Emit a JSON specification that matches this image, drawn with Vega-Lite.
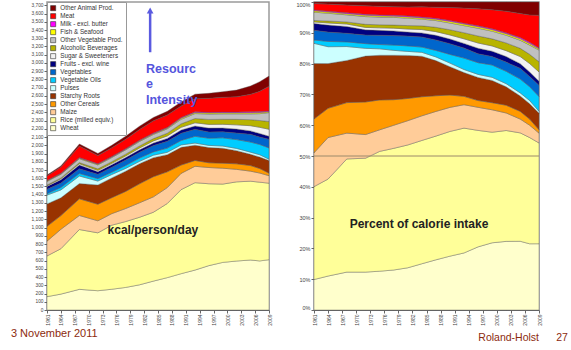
{
  "$schema": "https://vega.github.io/schema/vega-lite/v6.json",
  "background": "white",
  "padding": {"left": 10, "top": 0, "right": 0, "bottom": 0},
  "config": {
    "font": "Liberation Sans",
    "view": {"stroke": "#9a9a9a", "strokeWidth": 1.5},
    "axis": {"grid": false, "labelFontSize": 5, "labelColor": "#444", "tickSize": 3, "tickColor": "#666", "domainColor": "#666", "labelPadding": 1, "labelOverlap": false}
  },
  "datasets": {
    "foodL": [
      {"year": 1961, "wh": 162, "ri": 494, "mz": 180, "oc": 180, "sr": 272, "pu": 107, "vo": 18, "ve": 52, "fr": 36, "su": 8, "al": 8, "ov": 44, "fi": 7, "mi": 5, "me": 55, "oa": 10},
      {"year": 1964, "wh": 193, "ri": 551, "mz": 236, "oc": 166, "sr": 216, "pu": 96, "vo": 30, "ve": 53, "fr": 40, "su": 12, "al": 11, "ov": 44, "fi": 7, "mi": 5, "me": 75, "oa": 15},
      {"year": 1968, "wh": 251, "ri": 726, "mz": 171, "oc": 202, "sr": 185, "pu": 92, "vo": 31, "ve": 57, "fr": 45, "su": 16, "al": 14, "ov": 47, "fi": 8, "mi": 6, "me": 140, "oa": 25},
      {"year": 1972, "wh": 234, "ri": 703, "mz": 146, "oc": 201, "sr": 234, "pu": 48, "vo": 29, "ve": 53, "fr": 32, "su": 15, "al": 19, "ov": 48, "fi": 8, "mi": 6, "me": 100, "oa": 25},
      {"year": 1975, "wh": 252, "ri": 778, "mz": 140, "oc": 194, "sr": 239, "pu": 42, "vo": 28, "ve": 60, "fr": 32, "su": 16, "al": 20, "ov": 50, "fi": 8, "mi": 6, "me": 105, "oa": 30},
      {"year": 1978, "wh": 274, "ri": 800, "mz": 158, "oc": 208, "sr": 245, "pu": 34, "vo": 36, "ve": 65, "fr": 32, "su": 19, "al": 21, "ov": 53, "fi": 8, "mi": 6, "me": 115, "oa": 35},
      {"year": 1981, "wh": 306, "ri": 820, "mz": 176, "oc": 231, "sr": 243, "pu": 29, "vo": 40, "ve": 71, "fr": 29, "su": 22, "al": 25, "ov": 54, "fi": 9, "mi": 7, "me": 130, "oa": 40},
      {"year": 1984, "wh": 351, "ri": 836, "mz": 187, "oc": 245, "sr": 231, "pu": 30, "vo": 40, "ve": 77, "fr": 30, "su": 26, "al": 28, "ov": 51, "fi": 9, "mi": 7, "me": 150, "oa": 40},
      {"year": 1987, "wh": 393, "ri": 900, "mz": 193, "oc": 192, "sr": 208, "pu": 29, "vo": 51, "ve": 82, "fr": 36, "su": 29, "al": 34, "ov": 53, "fi": 10, "mi": 7, "me": 150, "oa": 45},
      {"year": 1990, "wh": 441, "ri": 1021, "mz": 197, "oc": 101, "sr": 215, "pu": 30, "vo": 54, "ve": 88, "fr": 38, "su": 33, "al": 43, "ov": 55, "fi": 13, "mi": 8, "me": 140, "oa": 50},
      {"year": 1993, "wh": 485, "ri": 1061, "mz": 199, "oc": 71, "sr": 185, "pu": 26, "vo": 82, "ve": 86, "fr": 39, "su": 39, "al": 52, "ov": 60, "fi": 13, "mi": 8, "me": 160, "oa": 55},
      {"year": 1996, "wh": 539, "ri": 994, "mz": 197, "oc": 58, "sr": 185, "pu": 26, "vo": 87, "ve": 76, "fr": 47, "su": 45, "al": 60, "ov": 66, "fi": 13, "mi": 8, "me": 170, "oa": 60},
      {"year": 1999, "wh": 578, "ri": 951, "mz": 193, "oc": 61, "sr": 181, "pu": 27, "vo": 100, "ve": 74, "fr": 45, "su": 45, "al": 61, "ov": 66, "fi": 13, "mi": 8, "me": 180, "oa": 68},
      {"year": 2002, "wh": 595, "ri": 961, "mz": 152, "oc": 67, "sr": 160, "pu": 27, "vo": 107, "ve": 80, "fr": 48, "su": 51, "al": 67, "ov": 67, "fi": 13, "mi": 8, "me": 187, "oa": 80},
      {"year": 2005, "wh": 607, "ri": 957, "mz": 122, "oc": 68, "sr": 136, "pu": 27, "vo": 122, "ve": 95, "fr": 41, "su": 63, "al": 73, "ov": 71, "fi": 14, "mi": 11, "me": 212, "oa": 101},
      {"year": 2007, "wh": 596, "ri": 956, "mz": 111, "oc": 55, "sr": 139, "pu": 28, "vo": 125, "ve": 91, "fr": 42, "su": 75, "al": 83, "ov": 83, "fi": 14, "mi": 11, "me": 247, "oa": 116},
      {"year": 2009, "wh": 611, "ri": 929, "mz": 91, "oc": 31, "sr": 153, "pu": 17, "vo": 136, "ve": 105, "fr": 37, "su": 85, "al": 94, "ov": 108, "fi": 11, "mi": 9, "me": 301, "oa": 122}
    ],
    "food": [
      {"year": 1961, "wh": 162, "ri": 494, "mz": 180, "oc": 180, "sr": 295, "pu": 107, "vo": 18, "ve": 52, "fr": 36, "su": 8, "al": 8, "ov": 44, "fi": 7, "mi": 5, "me": 34, "oa": 8},
      {"year": 1964, "wh": 193, "ri": 551, "mz": 236, "oc": 166, "sr": 254, "pu": 96, "vo": 30, "ve": 53, "fr": 40, "su": 12, "al": 11, "ov": 44, "fi": 7, "mi": 5, "me": 40, "oa": 12},
      {"year": 1968, "wh": 251, "ri": 749, "mz": 171, "oc": 202, "sr": 279, "pu": 92, "vo": 31, "ve": 57, "fr": 45, "su": 16, "al": 14, "ov": 47, "fi": 8, "mi": 6, "me": 51, "oa": 20},
      {"year": 1972, "wh": 234, "ri": 703, "mz": 146, "oc": 201, "sr": 283, "pu": 48, "vo": 29, "ve": 53, "fr": 32, "su": 15, "al": 19, "ov": 48, "fi": 8, "mi": 6, "me": 53, "oa": 23},
      {"year": 1975, "wh": 252, "ri": 778, "mz": 140, "oc": 194, "sr": 290, "pu": 42, "vo": 28, "ve": 60, "fr": 32, "su": 16, "al": 20, "ov": 50, "fi": 8, "mi": 6, "me": 56, "oa": 28},
      {"year": 1978, "wh": 274, "ri": 833, "mz": 158, "oc": 175, "sr": 304, "pu": 34, "vo": 36, "ve": 65, "fr": 32, "su": 19, "al": 21, "ov": 53, "fi": 8, "mi": 6, "me": 59, "oa": 32},
      {"year": 1981, "wh": 306, "ri": 890, "mz": 176, "oc": 161, "sr": 312, "pu": 29, "vo": 40, "ve": 71, "fr": 29, "su": 22, "al": 25, "ov": 54, "fi": 9, "mi": 7, "me": 65, "oa": 36},
      {"year": 1984, "wh": 351, "ri": 936, "mz": 187, "oc": 145, "sr": 307, "pu": 30, "vo": 40, "ve": 77, "fr": 30, "su": 26, "al": 28, "ov": 51, "fi": 9, "mi": 7, "me": 77, "oa": 37},
      {"year": 1987, "wh": 393, "ri": 969, "mz": 193, "oc": 123, "sr": 275, "pu": 29, "vo": 51, "ve": 82, "fr": 36, "su": 29, "al": 34, "ov": 53, "fi": 10, "mi": 7, "me": 87, "oa": 41},
      {"year": 1990, "wh": 441, "ri": 1021, "mz": 197, "oc": 101, "sr": 232, "pu": 30, "vo": 71, "ve": 88, "fr": 38, "su": 33, "al": 43, "ov": 55, "fi": 13, "mi": 8, "me": 106, "oa": 45},
      {"year": 1993, "wh": 485, "ri": 1061, "mz": 199, "oc": 71, "sr": 202, "pu": 26, "vo": 97, "ve": 86, "fr": 39, "su": 39, "al": 52, "ov": 60, "fi": 13, "mi": 8, "me": 128, "oa": 52},
      {"year": 1996, "wh": 539, "ri": 994, "mz": 197, "oc": 58, "sr": 197, "pu": 26, "vo": 100, "ve": 76, "fr": 47, "su": 45, "al": 60, "ov": 66, "fi": 13, "mi": 8, "me": 145, "oa": 58},
      {"year": 1999, "wh": 578, "ri": 951, "mz": 193, "oc": 61, "sr": 191, "pu": 27, "vo": 106, "ve": 74, "fr": 45, "su": 45, "al": 61, "ov": 66, "fi": 13, "mi": 8, "me": 164, "oa": 66},
      {"year": 2002, "wh": 595, "ri": 961, "mz": 152, "oc": 67, "sr": 160, "pu": 27, "vo": 107, "ve": 80, "fr": 48, "su": 51, "al": 67, "ov": 67, "fi": 13, "mi": 8, "me": 187, "oa": 80},
      {"year": 2005, "wh": 607, "ri": 957, "mz": 122, "oc": 68, "sr": 136, "pu": 27, "vo": 122, "ve": 95, "fr": 41, "su": 63, "al": 73, "ov": 71, "fi": 14, "mi": 11, "me": 212, "oa": 101},
      {"year": 2007, "wh": 596, "ri": 956, "mz": 111, "oc": 55, "sr": 139, "pu": 28, "vo": 125, "ve": 91, "fr": 42, "su": 75, "al": 83, "ov": 83, "fi": 14, "mi": 11, "me": 247, "oa": 116},
      {"year": 2009, "wh": 611, "ri": 929, "mz": 91, "oc": 31, "sr": 153, "pu": 17, "vo": 136, "ve": 105, "fr": 37, "su": 85, "al": 94, "ov": 108, "fi": 11, "mi": 9, "me": 301, "oa": 122}
    ],
    "keys": [
      {"k": "wh", "name": "Wheat", "o": 1},
      {"k": "ri", "name": "Rice (milled equiv.)", "o": 2},
      {"k": "mz", "name": "Maize", "o": 3},
      {"k": "oc", "name": "Other Cereals", "o": 4},
      {"k": "sr", "name": "Starchy Roots", "o": 5},
      {"k": "pu", "name": "Pulses", "o": 6},
      {"k": "vo", "name": "Vegetable Oils", "o": 7},
      {"k": "ve", "name": "Vegetables", "o": 8},
      {"k": "fr", "name": "Fruits - excl. wine", "o": 9},
      {"k": "su", "name": "Sugar & Sweeteners", "o": 10},
      {"k": "al", "name": "Alcoholic Beverages", "o": 11},
      {"k": "ov", "name": "Other Vegetable Prod.", "o": 12},
      {"k": "fi", "name": "Fish & Seafood", "o": 13},
      {"k": "mi", "name": "Milk - excl. butter", "o": 14},
      {"k": "me", "name": "Meat", "o": 15},
      {"k": "oa", "name": "Other Animal Prod.", "o": 16}
    ]
  },
  "resolve": {"scale": {"color": "independent"}, "legend": {"color": "independent"}},
  "spacing": 45,
  "bounds": "flush",
  "hconcat": [
    {
      "width": 222,
      "height": 308,
      "layer": [
        {
          "data": {"name": "foodL"},
          "transform": [
            {"fold": ["wh", "ri", "mz", "oc", "sr", "pu", "vo", "ve", "fr", "su", "al", "ov", "fi", "mi", "me", "oa"], "as": ["k", "v"]},
            {"lookup": "k", "from": {"data": {"name": "keys"}, "key": "k", "fields": ["name", "o"]}}
          ],
          "mark": {"type": "area", "stroke": "#555", "strokeWidth": 0.4},
          "encoding": {
            "x": {"field": "year", "type": "quantitative", "scale": {"domain": [1961, 2009], "nice": false, "zero": false},
                  "axis": {"title": null, "values": [1961, 1964, 1967, 1970, 1973, 1976, 1979, 1982, 1985, 1988, 1991, 1994, 1997, 2000, 2003, 2006, 2009], "tickCount": 200, "format": "d", "labelAngle": -90, "labelFontSize": 5, "labelFlush": false, "labelOverlap": false}},
            "y": {"field": "v", "type": "quantitative", "stack": "zero", "scale": {"domain": [0, 3740], "nice": false},
                  "axis": {"title": null, "format": ",.0f", "tickCount": 200, "values": [0,100,200,300,400,500,600,700,800,900,1000,1100,1200,1300,1400,1500,1600,1700,1800,1900,2000,2100,2200,2300,2400,2500,2600,2700,2800,2900,3000,3100,3200,3300,3400,3500,3600,3700], "labelFontSize": 4.8, "labelOverlap": false}},
            "color": {"field": "name", "type": "nominal",
                      "scale": {"domain": ["Other Animal Prod.", "Meat", "Milk - excl. butter", "Fish & Seafood", "Other Vegetable Prod.", "Alcoholic Beverages", "Sugar & Sweeteners", "Fruits - excl. wine", "Vegetables", "Vegetable Oils", "Pulses", "Starchy Roots", "Other Cereals", "Maize", "Rice (milled equiv.)", "Wheat"],
                                "range": ["#800000", "#FF0000", "#FF00FF", "#FFFF00", "#C0C0C0", "#B8B400", "#F2F2F2", "#000080", "#0066CC", "#00CCFF", "#CCFFFF", "#993300", "#FF9900", "#FFCC99", "#FFFF99", "#FFFFCC"]},
                      "legend": {"title": null, "orient": "top-left", "offset": 0, "padding": 3, "fillColor": "white", "strokeColor": "#999", "labelFontSize": 6.3, "labelColor": "#333", "symbolType": "square", "symbolSize": 26, "symbolStrokeColor": "#333", "symbolStrokeWidth": 0.6, "rowPadding": 0, "labelOffset": 4, "labelLimit": 90}},
            "order": {"field": "o", "type": "quantitative"}
          }
        },
        {
          "data": {"values": [{"x": 1983.3, "y1": 3130, "y2": 3610}]},
          "mark": {"type": "rule", "color": "#5a5ae0", "strokeWidth": 2.5},
          "encoding": {"x": {"field": "x", "type": "quantitative"}, "y": {"field": "y1", "type": "quantitative"}, "y2": {"field": "y2"}}
        },
        {
          "data": {"values": [{"x": 1983.3, "y": 3637}]},
          "mark": {"type": "point", "shape": "triangle-up", "filled": true, "size": 45, "color": "#5a5ae0", "opacity": 1},
          "encoding": {"x": {"field": "x", "type": "quantitative"}, "y": {"field": "y", "type": "quantitative"}}
        },
        {
          "data": {"values": [{"x": 1982.4, "y": 2927, "t": "Resourc"}, {"x": 1982.4, "y": 2744, "t": "e"}, {"x": 1982.4, "y": 2550, "t": "Intensity"}]},
          "mark": {"type": "text", "align": "left", "baseline": "middle", "fontSize": 12.5, "fontWeight": "bold", "color": "#5555dd"},
          "encoding": {"x": {"field": "x", "type": "quantitative"}, "y": {"field": "y", "type": "quantitative"}, "text": {"field": "t"}}
        },
        {
          "data": {"values": [{"x": 1983.9, "y": 971, "t": "kcal/person/day"}]},
          "mark": {"type": "text", "align": "center", "baseline": "middle", "fontSize": 12, "fontWeight": "bold", "color": "#222"},
          "encoding": {"x": {"field": "x", "type": "quantitative"}, "y": {"field": "y", "type": "quantitative"}, "text": {"field": "t"}}
        },
        {
          "data": {"values": [{"x": 1953.2, "y": -291, "t": "3 November 2011"}]},
          "mark": {"type": "text", "align": "left", "baseline": "middle", "fontSize": 11, "color": "#8c2a0e"},
          "encoding": {"x": {"field": "x", "type": "quantitative"}, "y": {"field": "y", "type": "quantitative"}, "text": {"field": "t"}}
        }
      ]
    },
    {
      "width": 225,
      "height": 308,
      "layer": [
        {
          "data": {"name": "food"},
          "transform": [
            {"fold": ["wh", "ri", "mz", "oc", "sr", "pu", "vo", "ve", "fr", "su", "al", "ov", "fi", "mi", "me", "oa"], "as": ["k", "v"]},
            {"lookup": "k", "from": {"data": {"name": "keys"}, "key": "k", "fields": ["name", "o"]}}
          ],
          "mark": {"type": "area", "stroke": "#555", "strokeWidth": 0.4},
          "encoding": {
            "x": {"field": "year", "type": "quantitative", "scale": {"domain": [1961, 2009], "nice": false, "zero": false},
                  "axis": {"title": null, "values": [1961, 1964, 1967, 1970, 1973, 1976, 1979, 1982, 1985, 1988, 1991, 1994, 1997, 2000, 2003, 2006, 2009], "tickCount": 200, "format": "d", "labelAngle": -90, "labelFontSize": 5, "labelFlush": false, "labelOverlap": false}},
            "y": {"field": "v", "type": "quantitative", "stack": "normalize", "scale": {"domain": [0, 1], "nice": false},
                  "axis": {"title": null, "format": ".0%", "tickCount": 200, "values": [0, 0.1, 0.2, 0.3, 0.4, 0.5, 0.6, 0.7, 0.8, 0.9, 1], "labelFontSize": 5.5, "labelFlush": true, "labelOverlap": false}},
            "color": {"field": "name", "type": "nominal",
                      "scale": {"domain": ["Other Animal Prod.", "Meat", "Milk - excl. butter", "Fish & Seafood", "Other Vegetable Prod.", "Alcoholic Beverages", "Sugar & Sweeteners", "Fruits - excl. wine", "Vegetables", "Vegetable Oils", "Pulses", "Starchy Roots", "Other Cereals", "Maize", "Rice (milled equiv.)", "Wheat"],
                                "range": ["#800000", "#FF0000", "#FF00FF", "#FFFF00", "#C0C0C0", "#B8B400", "#F2F2F2", "#000080", "#0066CC", "#00CCFF", "#CCFFFF", "#993300", "#FF9900", "#FFCC99", "#FFFF99", "#FFFFCC"]},
                      "legend": null},
            "order": {"field": "o", "type": "quantitative"}
          }
        },
        {
          "data": {"values": [{"p": 0.5}]},
          "mark": {"type": "rule", "color": "#9c8a6a", "strokeWidth": 1},
          "encoding": {"y": {"field": "p", "type": "quantitative"}}
        },
        {
          "data": {"values": [{"x": 1983.4, "p": 0.278, "t": "Percent of calorie intake"}]},
          "mark": {"type": "text", "align": "center", "baseline": "middle", "fontSize": 12, "fontWeight": "bold", "color": "#222"},
          "encoding": {"x": {"field": "x", "type": "quantitative"}, "y": {"field": "p", "type": "quantitative"}, "text": {"field": "t"}}
        },
        {
          "data": {"values": [{"x": 2009, "p": -0.091, "t": "Roland-Holst"}]},
          "mark": {"type": "text", "align": "right", "baseline": "middle", "fontSize": 10.5, "color": "#8c2a0e"},
          "encoding": {"x": {"field": "x", "type": "quantitative"}, "y": {"field": "p", "type": "quantitative"}, "text": {"field": "t"}}
        },
        {
          "data": {"values": [{"x": 2013.9, "p": -0.091, "t": "27"}]},
          "mark": {"type": "text", "align": "center", "baseline": "middle", "fontSize": 10.5, "color": "#8c2a0e"},
          "encoding": {"x": {"field": "x", "type": "quantitative"}, "y": {"field": "p", "type": "quantitative"}, "text": {"field": "t"}}
        }
      ]
    }
  ]
}
